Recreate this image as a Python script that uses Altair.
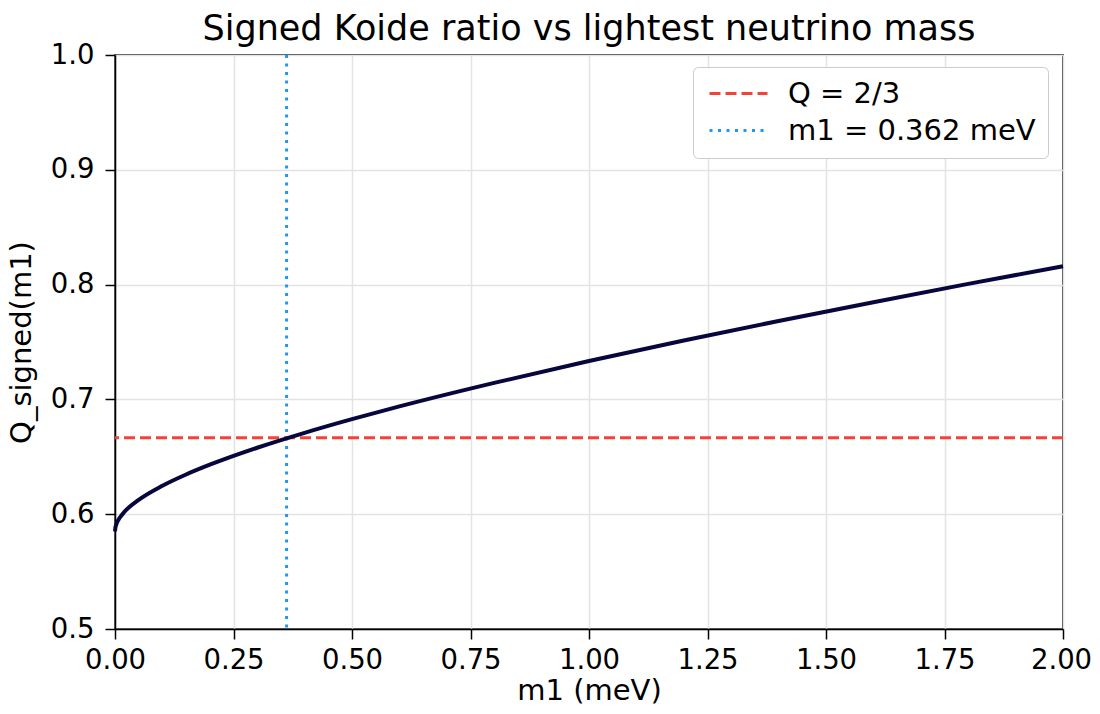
import altair as alt
import pandas as pd

# Curve values
m1_vals = [0.0, 0.001, 0.002, 0.005, 0.01, 0.02, 0.05, 0.1, 0.15, 0.2, 0.3, 0.4,
           0.5, 0.6, 0.8, 1.0, 1.2, 1.4, 1.6, 1.8, 2.0]
q_vals = [0.5850, 0.5887, 0.5903, 0.5934, 0.5969, 0.6021, 0.6125, 0.6248, 0.6346,
          0.6431, 0.6579, 0.6709, 0.6828, 0.6939, 0.7144, 0.7334, 0.7513, 0.7683,
          0.7847, 0.8006, 0.8160]

ref_labels = ["Q = 2/3", "m1 = 0.362 meV"]
ref_colors = ["#f44336", "#2196f3"]
q_ref = [2 / 3]
m1_ref = [0.362]

x_ticks = [0.0, 0.25, 0.5, 0.75, 1.0, 1.25, 1.5, 1.75, 2.0]
y_ticks = [0.5, 0.6, 0.7, 0.8, 0.9, 1.0]

curve = pd.DataFrame({"m1": m1_vals, "Q": q_vals})
hline = pd.DataFrame({"Q": q_ref, "label": [ref_labels[0]]})
vline = pd.DataFrame({"m1": m1_ref, "label": [ref_labels[1]]})

xscale = alt.Scale(domain=[0, 2], nice=False, zero=False)
yscale = alt.Scale(domain=[0.5, 1.0], nice=False, zero=False)

color_scale = alt.Scale(domain=ref_labels, range=ref_colors)
dash_scale = alt.Scale(domain=ref_labels, range=[[11, 5], [3, 5.5]])

FONT = "DejaVu Sans"

legend = alt.Legend(
    title=None, orient="none", legendX=578, legendY=12,
    fillColor="white", strokeColor="#cccccc", cornerRadius=5,
    padding=12, labelFontSize=29, labelFont=FONT, labelColor="black", labelLimit=500,
    symbolType="M-2.9,0H2.9", symbolSize=400, symbolStrokeWidth=3,
    symbolOffset=19, rowPadding=7, labelOffset=35,
)

line = alt.Chart(curve).mark_line(color="#07073d", strokeWidth=4, interpolate="monotone").encode(
    x=alt.X("m1:Q", scale=xscale,
            axis=alt.Axis(title="m1 (meV)", values=x_ticks, format=".2f",
                          labelOffset={"expr": "datum.value >= 1.99 ? -2 : 0"})),
    y=alt.Y("Q:Q", scale=yscale,
            axis=alt.Axis(title="Q_signed(m1)", values=y_ticks, format=".1f")),
)

h = alt.Chart(hline).mark_rule(strokeWidth=3).encode(
    y=alt.Y("Q:Q", scale=yscale),
    color=alt.Color("label:N", scale=color_scale, legend=legend),
    strokeDash=alt.StrokeDash("label:N", scale=dash_scale, legend=legend),
)

v = alt.Chart(vline).mark_rule(strokeWidth=3).encode(
    x=alt.X("m1:Q", scale=xscale),
    color=alt.Color("label:N", scale=color_scale, legend=legend),
    strokeDash=alt.StrokeDash("label:N", scale=dash_scale, legend=legend),
)

chart = alt.layer(v, h, line).properties(
    width=948, height=574,
    title=alt.Title("Signed Koide ratio vs lightest neutrino mass", fontSize=35,
                    font=FONT, fontWeight="normal", color="black", offset=-6,
                    frame="group"),
    autosize=alt.AutoSizeParams(type="none"),
    padding={"left": 107, "top": 47, "right": 29, "bottom": 76},
).configure_view(
    stroke="black", strokeWidth=1.5
).configure_axis(
    labelFont=FONT, titleFont=FONT, labelFontSize=27.5, titleFontSize=29,
    titleFontWeight="normal", labelColor="black", titleColor="black",
    domainColor="black", domainWidth=1.5, tickColor="black", tickWidth=1.5, tickSize=10,
    gridColor="#e3e3e3", gridWidth=1.5,
).configure_axisX(
    labelPadding=7, labelFlush=False, titleBaseline="alphabetic", titleY=70,
).configure_axisY(
    labelPadding=11, titleBaseline="alphabetic", titleX=-85,
)

chart.save("out.html", embed_options={"renderer": "svg", "actions": False})
